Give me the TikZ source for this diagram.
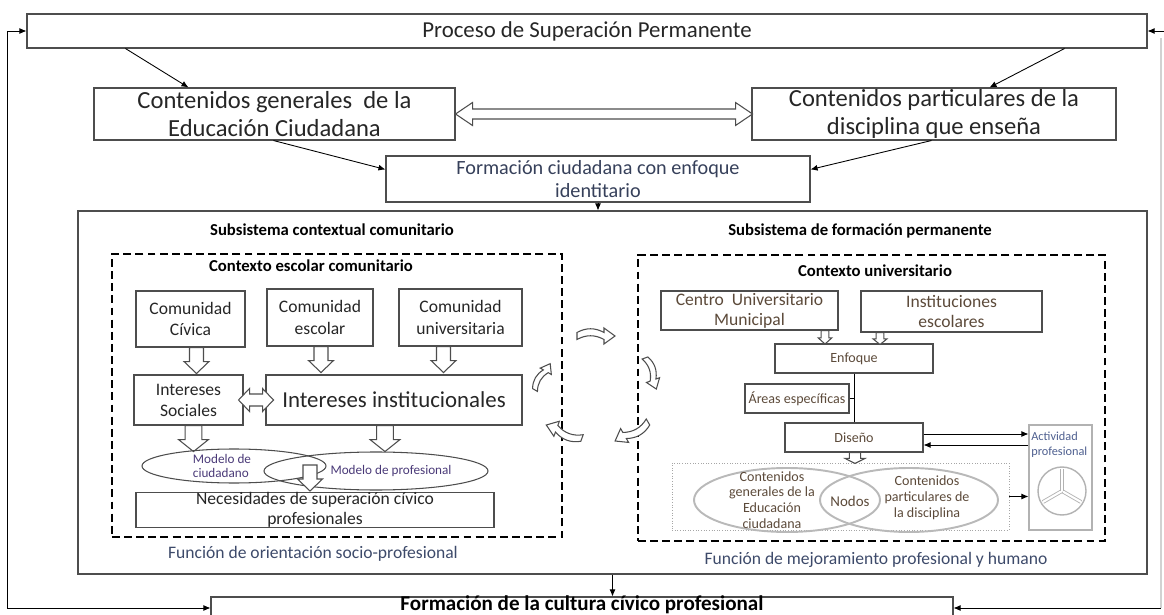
\documentclass[tikz,border=0pt]{standalone}
\usepackage{fontspec}
\setmainfont{Carlito}
\usepackage{xcolor}
\usepackage{tikz}
\usetikzlibrary{arrows.meta,calc}

\definecolor{boxgray}{HTML}{4D4D4D}
\definecolor{txtdark}{HTML}{262626}
\definecolor{txtgray}{HTML}{36405A}
\definecolor{txtbrown}{HTML}{5C4A3A}
\definecolor{txtslate}{HTML}{3D4A6A}
\definecolor{txtpurple}{HTML}{4A3A78}
\definecolor{txtblue}{HTML}{4E5F8F}

\tikzset{
  box/.style={draw=boxgray, line width=0.6pt, align=center, inner sep=0pt, text=txtdark},
  sz/.style 2 args={minimum width=#1*0.02cm, minimum height=#2*0.02cm},
  dashbox/.style={draw=black, line width=1.4pt, dash pattern=on 4.5pt off 2.4pt, inner sep=0pt},
  hollow/.style={draw=boxgray, fill=white, line width=0.6pt, line join=miter},
  con/.style={-{Latex[length=4pt,width=3.4pt]}, line width=0.5pt},
  fbig/.style={font=\fontsize{14}{16}\selectfont},
  fmid/.style={font=\fontsize{10}{12}\selectfont},
  fsmall/.style={font=\fontsize{8}{9}\selectfont},
  fhead/.style={font=\bfseries\fontsize{9.5}{11}\selectfont},
  dn/.pic={\draw[hollow] (-7,0) -- (7,0) -- (7,14) -- (12.5,14) -- (0,26) -- (-12.5,14) -- (-7,14) -- cycle;},
  bend/.pic={\draw[hollow] (0,-3.5) .. controls (9,-8.5) and (18,-8.5) .. (27,-3.5) -- (27,-8) -- (38,0) -- (27,8) -- (27,3.5) .. controls (18,-1.5) and (9,-1.5) .. (0,3.5) -- cycle;}
}

\begin{document}
\begin{tikzpicture}[x=0.02cm, y=-0.02cm]
\useasboundingbox (0,0) rectangle (1164,615);

% upper part
\node[box, sz={1120}{34}, font=\fontsize{13}{15}\selectfont] (pro) at (587,31) {Proceso de Superación Permanente};
\node[box, sz={361}{52}, fbig] (gen) at (274.5,114) {Contenidos generales~ de la\\Educación Ciudadana};
\node[box, sz={364}{52}, fbig] (par) at (934,114) {Contenidos particulares de la\\disciplina que enseña};
\node[box, sz={424}{46}, font=\fontsize{11.5}{13.5}\selectfont, text=txtgray] (ide) at (598,179) {Formación ciudadana con enfoque\\identitario};
\node[box, sz={1069}{363}] (sub) at (612.5,392.5) {};
\node[box, sz={742}{22}] (cul) at (582,608) {};
\node[anchor=base, inner sep=0pt, font=\bfseries\fontsize{12}{14}\selectfont] (tcul) at (582,610.5) {Formación de la cultura cívico profesional};

\draw[con] ([shift={(99,0)}]pro.south west) -- ([shift={(95,0)}]gen.north west);
\draw[con] ([shift={(-83,0)}]pro.south east) -- ([shift={(238,0)}]par.north west);
\draw[con] ([shift={(180,0)}]gen.south west) -- ([shift={(0,14)}]ide.north west);
\draw[con] ([shift={(180,0)}]par.south west) -- ([shift={(0,14)}]ide.north east);
\draw[hollow] (gen.east) -- ++(17,-11.5) -- ++(0,6.5) -- ++(263,0) -- ++(0,-6.5) -- ++(17,11.5)
  -- ++(-17,11.5) -- ++(0,-6.5) -- ++(-263,0) -- ++(0,6.5) -- cycle;
\draw[con] (ide.south) -- (ide.south |- sub.north);
\draw[con] (sub.south) -- (sub.south |- cul.north);

% feedback loops
\draw[{Latex[length=4pt,width=3.4pt]}-{Latex[length=4pt,width=3.4pt]}, line width=0.5pt] (pro.west) -- ++(-19,0) |- (cul.west);
\coordinate (rt) at (1164,31);
\coordinate (rv) at (1161,38);
\coordinate (rb) at (1161,608);
\draw[con] (rt) -- (pro.east);
\draw[gray!35, line width=0.8pt] (rv) -- (rb);
\draw[con] (rb) -- (cul.east);

\node[fhead] (tsc) at (332,230) {Subsistema contextual comunitario};
\node[fhead] (tsf) at (860,231) {Subsistema de formación permanente};
\node[dashbox, sz={450}{283}] (esc) at (337,395.5) {};
\node[dashbox, sz={467}{286}] (uni) at (871.5,398) {};

% contexto escolar comunitario
\node[fhead] (tce) at (311,266) {Contexto escolar comunitario};
\node[box, sz={109}{56}, fmid] (civ) at (190.5,319) {Comunidad\\Cívica};
\node[box, sz={106}{57}, fmid] (esco) at (320,317.5) {Comunidad\\escolar};
\node[box, sz={123}{57}, fmid] (univ) at (460.5,317.5) {Comunidad\\universitaria};
\node[box, sz={109}{50}, fmid] (soc) at (188.5,400) {Intereses\\Sociales};
\node[box, sz={256}{50}, font=\fontsize{13}{15}\selectfont] (ins) at (394,400) {Intereses institucionales};
\pic at ([shift={(6,0)}]civ.south) {dn};
\pic at ([shift={(1,0)}]esco.south) {dn};
\pic at ([shift={(-17,0)}]univ.south) {dn};
\draw[hollow] ([shift={(-5,0)}]soc.east) -- ++(11,-11.5) -- ++(0,5.5) -- ++(13,0) -- ++(0,-5.5) -- ++(11,11.5)
  -- ++(-11,11.5) -- ++(0,-5.5) -- ++(-13,0) -- ++(0,5.5) -- cycle;
\pic[xscale=1.2] at ([shift={(5,0)}]soc.south) {dn};
\pic[xscale=1.2] at ([shift={(-9,0)}]ins.south) {dn};
\draw[boxgray, line width=0.6pt] (234,466) ellipse [x radius=92, y radius=17];
\draw[boxgray, line width=0.6pt] (376,471) ellipse [x radius=112, y radius=19];
\node[font=\fontsize{7.5}{8.5}\selectfont, text=txtpurple, align=left] (mciu) at (222,466) {Modelo de\\ciudadano};
\node[font=\fontsize{7.5}{8.5}\selectfont, text=txtpurple] (mpro) at (391,471) {Modelo de profesional};
\pic at (310,465) {dn};
\node[box, sz={358}{34}, font=\fontsize{10}{11.4}\selectfont] (nec) at (315,510) {Necesidades de superación cívico\\profesionales};
\node[fmid, text=txtslate] (forl) at (313,554) {Función de orientación socio-profesional};

% contexto universitario
\node[fhead] (tcu) at (875,271) {Contexto universitario};
\node[box, sz={177}{39}, font=\fontsize{10}{11.4}\selectfont, text=txtbrown] (cen) at (749.5,310.5) {Centro~ Universitario\\Municipal};
\node[box, sz={181}{41}, font=\fontsize{10}{11.4}\selectfont, text=txtbrown] (iesc) at (951.5,311.5) {Instituciones\\escolares};
\node[box, sz={158}{29}, fsmall, text=txtbrown] (enf) at (854,358.5) {Enfoque};
\node[box, sz={104}{29}, fsmall, text=txtbrown] (are) at (797,398.5) {Áreas específicas};
\node[box, sz={138}{29}, fsmall, text=txtbrown] (dis) at (854,437.5) {Diseño};
\pic[xscale=0.55, yscale=0.52] at ([shift={(75.5,0)}]cen.south) {dn};
\pic[xscale=0.55, yscale=0.46] at ([shift={(-71.5,0)}]iesc.south) {dn};
\draw[line width=0.5pt] (enf.south) -- (dis.north);
\draw[line width=0.5pt] (are.east) -- (are.east -| enf.south);
\pic[xscale=0.8, yscale=0.42] at ([shift={(1,0)}]dis.south) {dn};

\node[draw=gray!70, densely dotted, line width=0.5pt, sz={337}{67}] (ven) at (840.5,496.5) {};
\draw[gray!55, line width=1.1pt] (787,500) ellipse [x radius=93, y radius=32];
\draw[gray!55, line width=1.1pt] (909,500) ellipse [x radius=89, y radius=32];
\node[fsmall, text=txtbrown, align=center] (cge) at (772,500) {Contenidos\\generales de la\\Educación\\ciudadana};
\node[font=\fontsize{8.5}{9}\selectfont, text=txtbrown] (nod) at (850,501) {Nodos};
\node[fsmall, text=txtbrown, align=center] (cpd) at (927,498) {Contenidos\\particulares de\\la disciplina};

\node[draw=gray!60, line width=0.6pt, inner sep=0pt, sz={63}{105}] (act) at (1060.5,477.5) {};
\node[anchor=north west, inner sep=0pt, font=\fontsize{7}{8.5}\selectfont, text=txtblue, align=left] (tact) at (1031,432) {Actividad\\profesional};
\draw[gray!60, line width=0.8pt] (1062,491) circle [radius=24];
\foreach \a in {30,150,270}
  \draw[gray!60, line width=0.5pt, double, double distance=1.2pt] (1062,491) -- ++(\a:22);

\coordinate (d1) at ($(dis.east)+(0,-3.5)$);
\coordinate (d2) at ($(dis.east)+(0,7.5)$);
\draw[con] (d1) -- (d1 -| act.west);
\draw[con] (d2 -| act.west) -- (d2);
\draw[con] (ven.east) -- (ven.east -| act.west);
\node[fmid, text=txtslate] (fmej) at (876,560) {Función de mejoramiento profesional y humano};

% flechas entre contextos
\pic at (577,336) {bend};
\pic[rotate=-70, scale=0.87] at (645,358) {bend};
\pic[rotate=210] at (648,422) {bend};
\pic[rotate=160] at (582,438) {bend};
\pic[rotate=60, scale=0.8] at (535,390) {bend};
\end{tikzpicture}
\end{document}
